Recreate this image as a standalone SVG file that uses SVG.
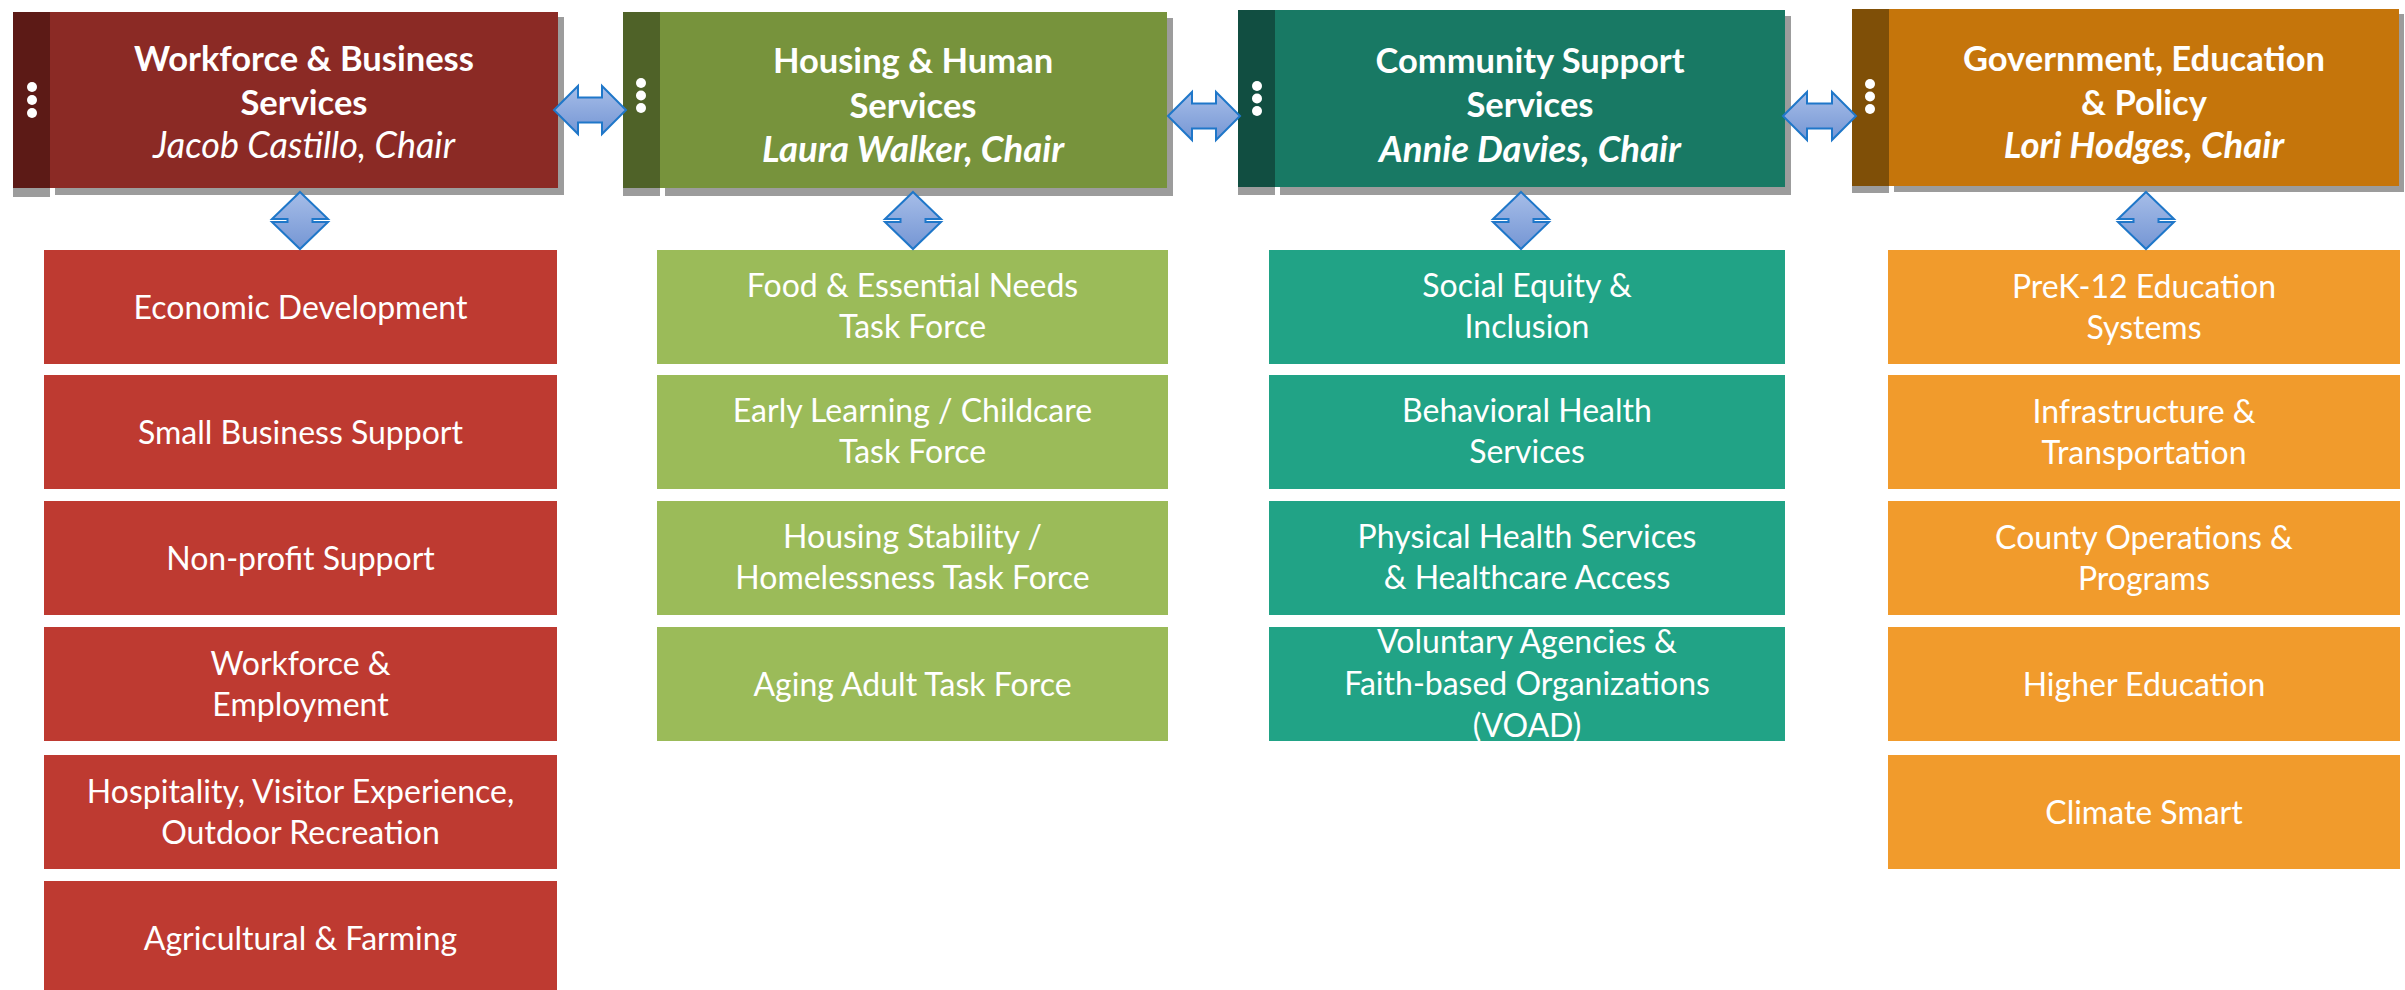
<svg xmlns="http://www.w3.org/2000/svg" width="2405" height="990" viewBox="0 0 2405 990">
<defs>
<linearGradient id="ag" x1="0" y1="0" x2="0" y2="1">
<stop offset="0" stop-color="#a6bde8"/>
<stop offset="1" stop-color="#7596d4"/>
</linearGradient>
<clipPath id="clipVoad"><rect x="1269" y="627" width="516" height="114"/></clipPath>
</defs>
<style>
text{font-family:Lato,"Liberation Sans",sans-serif;fill:#fff;text-anchor:middle}
.t{font-weight:700;font-size:34.5px}
.n{font-style:italic;font-size:36px}
.nb{font-style:italic;font-weight:700;font-size:36.5px}
.c{font-size:32px}
.sh{fill:#9c9c9c}
.dot{fill:#fff}
.arr{fill:url(#ag);stroke:#1f77c9;stroke-width:2;stroke-linejoin:miter}
.r1{fill:#be3a31}.r2{fill:#9bbb59}.r3{fill:#21a386}.r4{fill:#f19b2c}
</style>
<rect width="2405" height="990" fill="#fff"/>

<g id="col1">
<g id="h1">
<rect class="sh" x="13" y="186" width="37" height="11"/>
<rect class="sh" x="55" y="17" width="509" height="178"/>
<rect x="13" y="12" width="37" height="176" fill="#5c1a16"/>
<rect x="50" y="12" width="508" height="176" fill="#8b2a25"/>
<circle class="dot" cx="32" cy="87" r="5"/><circle class="dot" cx="32" cy="100" r="5"/><circle class="dot" cx="32" cy="113" r="5"/>
<text class="t" x="304" y="71">Workforce &amp; Business</text>
<text class="t" x="304" y="115">Services</text>
<text class="n" x="304" y="158">Jacob Castillo, Chair</text>
</g>
<g id="c1-1"><rect class="r1" x="44" y="250" width="513" height="114"/><text class="c" x="300.5" y="319">Economic Development</text></g>
<g id="c1-2"><rect class="r1" x="44" y="375" width="513" height="114"/><text class="c" x="300.5" y="444">Small Business Support</text></g>
<g id="c1-3"><rect class="r1" x="44" y="501" width="513" height="114"/><text class="c" x="300.5" y="570">Non-profit Support</text></g>
<g id="c1-4"><rect class="r1" x="44" y="627" width="513" height="114"/><text class="c" x="300.5" y="675">Workforce &amp;</text><text class="c" x="300.5" y="716">Employment</text></g>
<g id="c1-5"><rect class="r1" x="44" y="755" width="513" height="114"/><text class="c" x="300.5" y="803">Hospitality, Visitor Experience,</text><text class="c" x="300.5" y="844">Outdoor Recreation</text></g>
<g id="c1-6"><rect class="r1" x="44" y="881" width="513" height="114"/><text class="c" x="300.5" y="950">Agricultural &amp; Farming</text></g>
</g>

<g id="col2">
<g id="h2">
<rect class="sh" x="623" y="186" width="37" height="10"/>
<rect class="sh" x="665" y="18" width="508" height="178"/>
<rect x="623" y="12" width="37" height="176" fill="#4f6228"/>
<rect x="660" y="12" width="507" height="176" fill="#77933c"/>
<circle class="dot" cx="641" cy="83" r="5"/><circle class="dot" cx="641" cy="95.5" r="5"/><circle class="dot" cx="641" cy="108" r="5"/>
<text class="t" x="913" y="73">Housing &amp; Human</text>
<text class="t" x="913" y="118">Services</text>
<text class="nb" x="913" y="162">Laura Walker, Chair</text>
</g>
<g id="c2-1"><rect class="r2" x="657" y="250" width="511" height="114"/><text class="c" x="912.5" y="297">Food &amp; Essential Needs</text><text class="c" x="912.5" y="338">Task Force</text></g>
<g id="c2-2"><rect class="r2" x="657" y="375" width="511" height="114"/><text class="c" x="912.5" y="422">Early Learning / Childcare</text><text class="c" x="912.5" y="463">Task Force</text></g>
<g id="c2-3"><rect class="r2" x="657" y="501" width="511" height="114"/><text class="c" x="912.5" y="548">Housing Stability /</text><text class="c" x="912.5" y="589">Homelessness Task Force</text></g>
<g id="c2-4"><rect class="r2" x="657" y="627" width="511" height="114"/><text class="c" x="912.5" y="696">Aging Adult Task Force</text></g>
</g>

<g id="col3">
<g id="h3">
<rect class="sh" x="1238" y="185" width="37" height="10"/>
<rect class="sh" x="1280" y="16" width="511" height="179"/>
<rect x="1238" y="10" width="37" height="177" fill="#114e41"/>
<rect x="1275" y="10" width="510" height="177" fill="#187964"/>
<circle class="dot" cx="1257" cy="86" r="5"/><circle class="dot" cx="1257" cy="98.5" r="5"/><circle class="dot" cx="1257" cy="111" r="5"/>
<text class="t" x="1530" y="73">Community Support</text>
<text class="t" x="1530" y="117">Services</text>
<text class="nb" x="1530" y="162">Annie Davies, Chair</text>
</g>
<g id="c3-1"><rect class="r3" x="1269" y="250" width="516" height="114"/><text class="c" x="1527" y="297">Social Equity &amp;</text><text class="c" x="1527" y="338">Inclusion</text></g>
<g id="c3-2"><rect class="r3" x="1269" y="375" width="516" height="114"/><text class="c" x="1527" y="422">Behavioral Health</text><text class="c" x="1527" y="463">Services</text></g>
<g id="c3-3"><rect class="r3" x="1269" y="501" width="516" height="114"/><text class="c" x="1527" y="548">Physical Health Services</text><text class="c" x="1527" y="589">&amp; Healthcare Access</text></g>
<g id="c3-4"><rect class="r3" x="1269" y="627" width="516" height="114"/><g clip-path="url(#clipVoad)"><text class="c" x="1527" y="653">Voluntary Agencies &amp;</text><text class="c" x="1527" y="695">Faith-based Organizations</text><text class="c" x="1527" y="737">(VOAD)</text></g></g>
</g>

<g id="col4">
<g id="h4">
<rect class="sh" x="1852" y="184" width="37" height="9"/>
<rect class="sh" x="1894" y="14" width="510" height="178"/>
<rect x="1852" y="9" width="37" height="177" fill="#7f4f07"/>
<rect x="1889" y="9" width="510" height="177" fill="#c5750b"/>
<circle class="dot" cx="1870" cy="84" r="5"/><circle class="dot" cx="1870" cy="96.5" r="5"/><circle class="dot" cx="1870" cy="109" r="5"/>
<text class="t" x="2144" y="71">Government, Education</text>
<text class="t" x="2144" y="115">&amp; Policy</text>
<text class="nb" x="2144" y="158">Lori Hodges, Chair</text>
</g>
<g id="c4-1"><rect class="r4" x="1888" y="250" width="512" height="114"/><text class="c" x="2144" y="298">PreK-12 Education</text><text class="c" x="2144" y="339">Systems</text></g>
<g id="c4-2"><rect class="r4" x="1888" y="375" width="512" height="114"/><text class="c" x="2144" y="423">Infrastructure &amp;</text><text class="c" x="2144" y="464">Transportation</text></g>
<g id="c4-3"><rect class="r4" x="1888" y="501" width="512" height="114"/><text class="c" x="2144" y="549">County Operations &amp;</text><text class="c" x="2144" y="590">Programs</text></g>
<g id="c4-4"><rect class="r4" x="1888" y="627" width="512" height="114"/><text class="c" x="2144" y="696">Higher Education</text></g>
<g id="c4-5"><rect class="r4" x="1888" y="755" width="512" height="114"/><text class="c" x="2144" y="824">Climate Smart</text></g>
</g>

<g id="connectors">
<path class="arr" d="M554,110 L578,86 L578,97.5 L602,97.5 L602,86 L626,110 L602,134 L602,122.5 L578,122.5 L578,134 Z"/>
<path class="arr" d="M1168,116 L1192,92 L1192,103.5 L1216,103.5 L1216,92 L1240,116 L1216,140 L1216,128.5 L1192,128.5 L1192,140 Z"/>
<path class="arr" d="M1783,116 L1807,92 L1807,103.5 L1832,103.5 L1832,92 L1856,116 L1832,140 L1832,128.5 L1807,128.5 L1807,140 Z"/>
<path class="arr" d="M300,192 L328,219 L312.5,219 L312.5,222 L328,222 L300,249 L272,222 L287.5,222 L287.5,219 L272,219 Z"/>
<path class="arr" d="M913,192 L941,219 L925.5,219 L925.5,222 L941,222 L913,249 L885,222 L900.5,222 L900.5,219 L885,219 Z"/>
<path class="arr" d="M1521,192 L1549,219 L1533.5,219 L1533.5,222 L1549,222 L1521,249 L1493,222 L1508.5,222 L1508.5,219 L1493,219 Z"/>
<path class="arr" d="M2146,192 L2174,219 L2158.5,219 L2158.5,222 L2174,222 L2146,249 L2118,222 L2133.5,222 L2133.5,219 L2118,219 Z"/>
</g>
</svg>
